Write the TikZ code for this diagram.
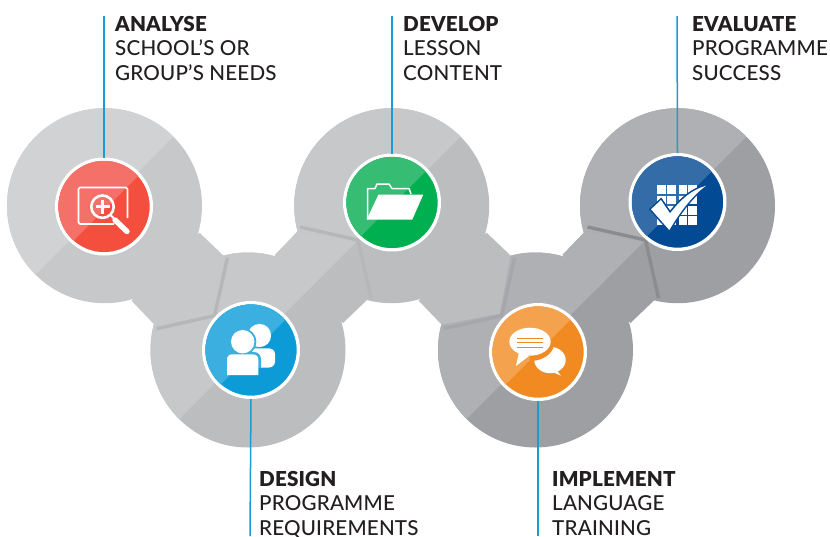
\documentclass[tikz,border=0pt]{standalone}
\usepackage{fontspec}
\setmainfont{Lato Medium}[LetterSpace=0.9,BoldFont={Lato Black}]
\definecolor{tA}{HTML}{D1D2D4}\definecolor{tB}{HTML}{C7C8CA}\definecolor{tC}{HTML}{BCBDBF}
\definecolor{tD}{HTML}{AFB0B3}\definecolor{tE}{HTML}{9E9FA2}
\definecolor{lnA}{HTML}{B6B7B9}\definecolor{lnB}{HTML}{A6A7AA}\definecolor{lnC}{HTML}{8B8C8F}
\definecolor{leader}{HTML}{1B9AD6}\definecolor{ink}{HTML}{231F20}
\definecolor{redL}{HTML}{F4716A}\definecolor{redD}{HTML}{F34E3E}
\definecolor{bluL}{HTML}{3BAFE0}\definecolor{bluD}{HTML}{0C9BD7}
\definecolor{grnL}{HTML}{37BC74}\definecolor{grnD}{HTML}{00AF4F}
\definecolor{orgL}{HTML}{F4A24D}\definecolor{orgD}{HTML}{F18A21}
\definecolor{navL}{HTML}{336CA6}\definecolor{navD}{HTML}{034A94}
\tikzset{
  iconring/.style={circle,draw=white,line width=3.3pt,minimum size=94.7pt,inner sep=0pt},
  leaderline/.style={draw=leader,line width=1.5pt},
  caption/.style={anchor=north west,inner sep=0pt,align=left,text=ink,font=\fontsize{20.6}{24.6}\selectfont},
  seam/.style={line width=3.4pt,line join=miter},
}
% half plane x+y<#1 (absolute picture coordinates)
\newcommand{\halfclip}[1]{\clip (-200,-200) -- ({#1+200},-200) -- (-200,{#1+200}) -- cycle;}
% #1,#2 centre  #3 band direction (1 down-right, -1 up-right, 0 none)  #4 light #5 dark #6 seam colour
\newcommand{\blob}[6]{%
  \begin{scope}[shift={(#1,#2)}]
    \ifnum#3=0\else
      \begin{scope}[yscale=#3]
        \draw[seam,draw=#6] (123,52) -- (110,110) -- (52,123);
      \end{scope}
    \fi
    \fill[#5] (0,0) circle (97.5);
    \ifnum#3=0\else
      \begin{scope}[yscale=#3]
        \fill[#5] (95,27) -- (119,50) -- (108,108) -- (50,119) -- (27,95) -- cycle;
      \end{scope}
    \fi
    \begin{scope}
      \clip (-300,300) -- (300,-300) -- (-300,-300) -- cycle;
      \fill[#4] (0,0) circle (97.5);
      \ifnum#3=0\else
        \begin{scope}[yscale=#3]
          \fill[#4] (95,27) -- (119,50) -- (108,108) -- (50,119) -- (27,95) -- cycle;
        \end{scope}
      \fi
    \end{scope}
  \end{scope}}
% #1 node name #2,#3 centre #4 split #5 light #6 dark
\newcommand{\iconball}[6]{%
  \node[iconring,fill=#6] (#1) at (#2,#3) {};
  \begin{scope}
    \clip (#2,#3) circle (45.7);
    \halfclip{#4}
    \fill[#5] (#2,#3) circle (46);
  \end{scope}}
\begin{document}
\begin{tikzpicture}[x=1pt,y=-1pt]
\useasboundingbox (0,0) rectangle (830,536);
% grey chain, back to front
\blob{677.5}{205.7}{0}{tD}{tE}{lnC}
\blob{535.5}{350}{-1}{tD}{tE}{lnC}
\blob{391.7}{205.7}{1}{tB}{tC}{lnB}
\blob{248}{350}{-1}{tB}{tC}{lnA}
\blob{104.5}{205.7}{1}{tA}{tB}{lnA}
% discs
\iconball{analyse}{104}{206.5}{314}{redL}{redD}
\iconball{design}{251}{350}{605}{bluL}{bluD}
\iconball{develop}{392}{202.5}{597}{grnL}{grnD}
\iconball{implement}{538}{352}{890}{orgL}{orgD}
\iconball{evaluate}{677.5}{202}{883}{navL}{navD}
% leaders
\coordinate (analyseEnd) at (104,16);
\coordinate (developEnd) at (392,16);
\coordinate (evaluateEnd) at (677,16);
\coordinate (designEnd) at (250,536);
\coordinate (implementEnd) at (538,536);
\draw[leaderline] (analyse.north) -- (analyseEnd);
\draw[leaderline] (develop.north) -- (developEnd);
\draw[leaderline] (evaluate.north) -- (evaluateEnd);
\draw[leaderline] (design.south) -- (designEnd);
\draw[leaderline] (implement.south) -- (implementEnd);
% captions
\node[caption] (capAnalyse) at (115,16) {\textbf{ANALYSE}\\SCHOOL’S OR\\GROUP’S NEEDS};
\node[caption] (capDevelop) at (403,16) {\textbf{DEVELOP}\\LESSON\\CONTENT};
\node[caption] (capEvaluate) at (692,16) {\textbf{EVALUATE}\\PROGRAMME\\SUCCESS};
\node[caption] (capDesign) at (259,471) {\textbf{DESIGN}\\PROGRAMME\\REQUIREMENTS};
\node[caption] (capImplement) at (552,471) {\textbf{IMPLEMENT}\\LANGUAGE\\TRAINING};
% magnifier icon
\draw[white,line width=1.6pt,rounded corners=1.5pt] (114,224) -- (78.5,224) -- (78.5,187.5) -- (127.5,187.5) -- (127.5,218);
\fill[redD] (103,207) circle (14.5);
\begin{scope}\clip (60,160) rectangle (150,250); \halfclip{314}\fill[redL] (103,207) circle (14.5);\end{scope}
\draw[white,line width=2.6pt] (102.5,206.7) circle (11.2);
\draw[white,line width=3.4pt] (95.5,206.7) -- (109.5,206.7) (102.5,199.7) -- (102.5,213.7);
\draw[white,line width=2pt] (110.5,215) -- (116,220.5);
\draw[white,line width=5.4pt,line cap=round] (115,220) -- (127,231.5);
% people icon
\fill[white] (259.5,335.5) circle (11.6);
\fill[white,rounded corners=6pt] (250,367.5) -- (250,348.3) -- (275,348.3) -- (275,367.5) -- cycle;
\fill[bluL] (242.7,341.7) circle (13.6);
\begin{scope}
  \clip (220,340) rectangle (280,367.5);
  \fill[bluL,rounded corners=7pt] (224.5,380) -- (224.5,352) -- (261,352) -- (261,380) -- cycle;
\end{scope}
\fill[white] (242.7,341.7) circle (11.7);
\fill[white] (227,375) -- (227,360) .. controls (227,356) and (229,354.3) .. (233,354.3) -- (252,354.3) .. controls (256,354.3) and (258.3,356) .. (258.3,360) -- (258.3,375) -- cycle;
% folder icon
\draw[white,line width=1.5pt,line join=round] (367.5,219) -- (367.5,188.5) -- (375,188.5) -- (377,184) -- (389,184) -- (392,188.5) -- (409,188.5) -- (411,194);
\fill[white] (378.5,194.5) -- (423.3,194.5) -- (412.3,219.5) -- (366.7,219.5) -- cycle;
% speech icon
\fill[white] (550,360) ellipse (15.7 and 13.2);
\fill[white] (548,370) -- (561,375.7) -- (553,366) -- cycle;
\begin{scope}
  \clip (530,345) rectangle (570,380);
  \fill[orgD] (530,343.5) ellipse (24 and 17.5);
\end{scope}
\fill[white] (530,341.7) ellipse (20.7 and 14);
\fill[white] (519,352) -- (516,366) -- (529,356) -- cycle;
\draw[orgD,line width=1.3pt] (517.3,338.3) -- (542.7,338.3) (517.3,342.7) -- (542.7,342.7) (517.3,347.3) -- (542.7,347.3);
% checklist icon
\foreach \gx in {657.3,667.4,678.5,688.4}
  \foreach \gy in {185,195.5,205.7,216}
    \fill[white] (\gx,\gy) rectangle ++(8.8,8.8);
\begin{scope}
  \clip (620,150) rectangle (740,260);
  \halfclip{883}
  \draw[navL,line width=3pt,line join=miter] (651,209.3) -- (661,200) -- (670,213.3) .. controls (682,198) and (692,190) .. (706,185.7) .. controls (692,196) and (680,212) .. (669.3,230) -- cycle;
\end{scope}
\begin{scope}
  \clip (883,-100) -- (-100,883) -- (1000,1000) -- cycle;
  \draw[navD,line width=3pt,line join=miter] (651,209.3) -- (661,200) -- (670,213.3) .. controls (682,198) and (692,190) .. (706,185.7) .. controls (692,196) and (680,212) .. (669.3,230) -- cycle;
\end{scope}
\fill[white] (651,209.3) -- (661,200) -- (670,213.3) .. controls (682,198) and (692,190) .. (706,185.7) .. controls (692,196) and (680,212) .. (669.3,230) -- cycle;
\end{tikzpicture}
\end{document}
